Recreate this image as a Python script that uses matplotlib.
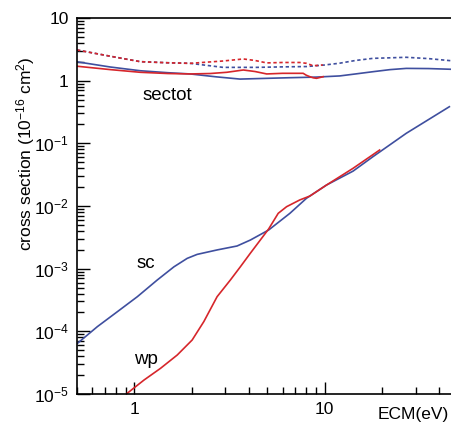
import matplotlib
matplotlib.use("Agg")
import matplotlib.pyplot as plt
from matplotlib.ticker import FixedLocator, FixedFormatter, LogLocator, NullFormatter

plt.rcParams['font.family'] = ['Liberation Sans', 'DejaVu Sans']
plt.rcParams['mathtext.fontset'] = 'custom'
plt.rcParams['mathtext.rm'] = 'Liberation Sans'
plt.rcParams['mathtext.it'] = 'Liberation Sans'
plt.rcParams['mathtext.bf'] = 'Liberation Sans:bold'

# sectot curves (solid and dotted, blue and red)
tot_blue_x = [0.5, 0.75, 1.075, 1.5, 1.965, 2.7, 3.589, 5.0, 6.558, 9.0, 11.98, 14.5, 17.9, 22.0, 26.78, 35.0, 46]
tot_blue_y = [2.0, 1.65, 1.44, 1.34, 1.28, 1.15, 1.06, 1.09, 1.115, 1.14, 1.19, 1.28, 1.39, 1.5, 1.57, 1.56, 1.52]
tot_red_x = [0.5, 0.75, 1.075, 1.5, 1.965, 2.5, 3.057, 3.735, 4.3, 4.954, 6.0, 7.70, 8.0, 8.35, 8.7, 9.05, 9.8]
tot_red_y = [1.7, 1.5, 1.36, 1.3, 1.28, 1.3, 1.36, 1.48, 1.4, 1.28, 1.31, 1.31, 1.22, 1.157, 1.11, 1.09, 1.157]
tot_blue_dot_x = [0.5, 0.75, 1.075, 1.5, 1.965, 2.924, 4.39, 6.0, 8.02, 10.0, 11.98, 14.5, 17.9, 26.78, 35.0, 46]
tot_blue_dot_y = [3.09, 2.45, 2.01, 1.93, 1.89, 1.63, 1.63, 1.66, 1.68, 1.78, 1.9, 2.1, 2.27, 2.36, 2.25, 2.08]
tot_red_dot_x = [0.5, 0.75, 1.075, 1.5, 1.965, 2.924, 3.735, 4.3, 4.954, 6.0, 7.396, 8.02, 8.69, 9.76]
tot_red_dot_y = [3.09, 2.45, 2.01, 1.93, 1.89, 2.06, 2.22, 2.1, 1.92, 1.95, 1.95, 1.89, 1.73, 1.78]

# sc (blue) and wp (red)
sc_x = [0.503, 0.64, 0.815, 1.037, 1.319, 1.614, 1.895, 2.137, 2.72, 3.462, 4.064, 5.073,
        6.558, 8.02, 10.21, 14.07, 17.9, 26.78, 45.1]
sc_y = [6.44e-5, 1.19e-4, 2.06e-4, 3.57e-4, 6.59e-4, 1.07e-3, 1.46e-3, 1.69e-3, 1.99e-3,
        2.30e-3, 2.86e-3, 4.14e-3, 7.64e-3, 1.33e-2, 2.16e-2, 3.6e-2, 6.12e-2, 0.1445, 0.384]
wp_x = [0.919, 1.124, 1.373, 1.68, 2.012, 2.317, 2.72, 3.193, 3.602, 4.064, 5.073, 5.695,
        6.303, 7.396, 8.347, 10.21, 14.07, 19.41]
wp_y = [1.03e-5, 1.67e-5, 2.57e-5, 4.19e-5, 7.27e-5, 1.43e-4, 3.57e-4, 6.59e-4, 1.07e-3,
        1.76e-3, 4.3e-3, 7.64e-3, 9.75e-3, 1.25e-2, 1.44e-2, 2.16e-2, 3.99e-2, 7.82e-2]

ytick_vals = [1e-5, 1e-4, 1e-3, 1e-2, 1e-1, 1, 10]
ytick_labels = [r'$10^{-5}$', r'$10^{-4}$', r'$10^{-3}$', r'$10^{-2}$', r'$10^{-1}$', '1', '10']
xtick_vals = [1, 10]
xtick_labels = ['1', '10']

blue = '#3f4f9f'
red = '#d6262b'

fig = plt.figure(figsize=(4.51, 4.25), dpi=100)
ax = fig.add_axes([77 / 451, 31 / 425, 374 / 451, 376 / 425])
ax.set_xscale('log')
ax.set_yscale('log')
ax.set_xlim(0.5, 46)
ax.set_ylim(1e-5, 10)

lw = 1.2
ax.plot(tot_blue_dot_x, tot_blue_dot_y, color=blue, lw=lw, ls=(0, (2, 1.6)))
ax.plot(tot_red_dot_x, tot_red_dot_y, color=red, lw=lw, ls=(0, (2, 1.6)))
ax.plot(tot_blue_x, tot_blue_y, color=blue, lw=lw)
ax.plot(tot_red_x, tot_red_y, color=red, lw=lw)
ax.plot(sc_x, sc_y, color=blue, lw=lw)
ax.plot(wp_x, wp_y, color=red, lw=lw)

ax.text(1.489, 0.492, 'sectot', fontsize=13.5, ha='center', va='baseline')
ax.text(1.156, 1.03e-3, 'sc', fontsize=13.5, ha='center', va='baseline')
ax.text(1.156, 3.01e-5, 'wp', fontsize=13.5, ha='center', va='baseline')

ax.yaxis.set_major_locator(FixedLocator(ytick_vals))
ax.yaxis.set_major_formatter(FixedFormatter(ytick_labels))
ax.yaxis.set_minor_locator(LogLocator(base=10, subs=range(2, 10), numticks=20))
ax.yaxis.set_minor_formatter(NullFormatter())
ax.xaxis.set_major_locator(FixedLocator(xtick_vals))
ax.xaxis.set_major_formatter(FixedFormatter(xtick_labels))
ax.xaxis.set_minor_locator(LogLocator(base=10, subs=range(2, 10), numticks=20))
ax.xaxis.set_minor_formatter(NullFormatter())

ax.tick_params(which='both', direction='in', top=False, right=False, width=1)
ax.tick_params(which='major', length=9, labelsize=12.5, pad=6)
ax.tick_params(which='minor', length=5)
ax.spines['right'].set_visible(False)
for s in ['left', 'bottom', 'top']:
    ax.spines[s].set_linewidth(1.2)

ax.set_ylabel(r'cross section (10$^{-16}$ cm$^{2}$)', fontsize=12.5)
ax.yaxis.set_label_coords(-0.107, 0.64)
fig.text(413 / 451, 1 - 414 / 425, 'ECM(eV)', fontsize=12.5, ha='center', va='center')

fig.savefig('out.png', dpi=100)
